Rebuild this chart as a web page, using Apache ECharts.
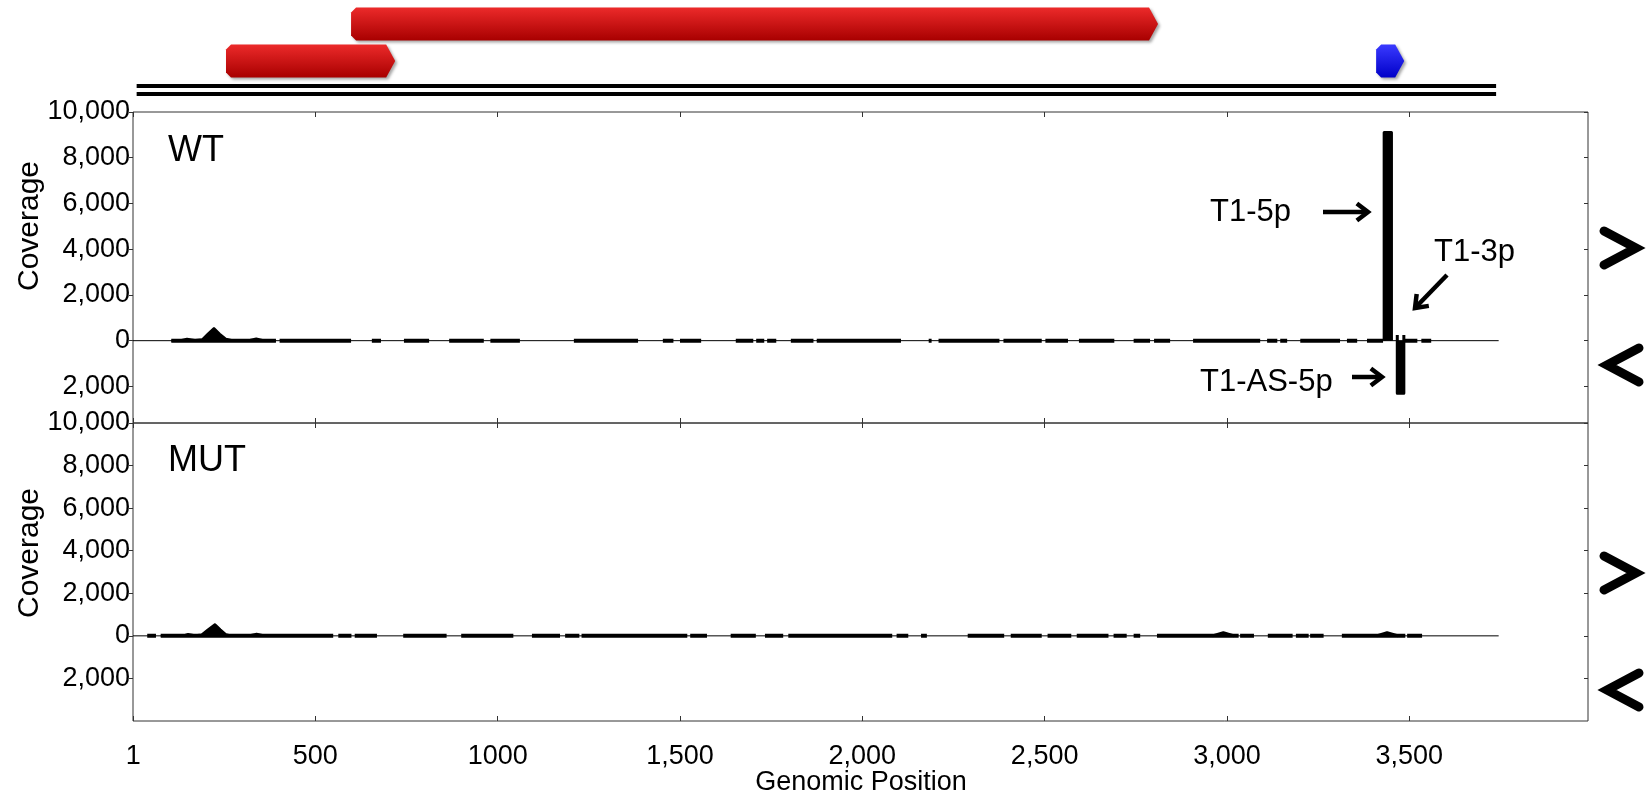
<!DOCTYPE html>
<html><head><meta charset="utf-8">
<script src="https://cdn.jsdelivr.net/npm/echarts@6/dist/echarts.min.js"></script>
<style>html,body{margin:0;padding:0;background:#fff}#c{width:1651px;height:800px}</style>
</head><body><div id="c"></div>
<script>
// ---- data ----
const xTickValues = [1, 500, 1000, 1500, 2000, 2500, 3000, 3500];
const xTickLabels = ['1', '500', '1000', '1,500', '2,000', '2,500', '3,000', '3,500'];
const yTickValues = [-2000, 0, 2000, 4000, 6000, 8000, 10000];
const yTickLabels = ['2,000', '0', '2,000', '4,000', '6,000', '8,000', '10,000'];
// genes: [start, end, lane, color]
const genes = [[598, 2811, 0, 'red'], [255, 719, 1, 'red'], [3409, 3486, 1, 'blue']];
const genomeSpan = [10, 3738];
const baselineEnd = 3745;
const wtSegments = [[105,392],[402,598],[655,680],[743,812],[867,962],[980,1061],[1209,1385],[1453,1482],[1500,1558],[1653,1701],[1709,1731],[1739,1764],[1804,1866],[1875,2106],[2182,2190],[2209,2376],[2387,2492],[2502,2564],[2594,2691],[2744,2789],[2800,2844],[2907,3091],[3110,3138],[3146,3165],[3201,3310],[3329,3357],[3384,3428],[3484,3522],[3533,3560]];
const wtProfile = [[105,0],[130,20],[148,90],[170,30],[190,60],[205,300],[222,560],[238,300],[255,80],[270,30],[320,30],[338,100],[355,30],[392,0]];
const wtSpike5p = [[3431,0],[3431,9100],[3451,9100],[3451,0]];
const wtSpikeAS = [[3467,250],[3467,-2300],[3485,-2300],[3485,250]];
const mutSegments = [[39,63],[76,549],[563,599],[608,669],[741,860],[900,1043],[1094,1171],[1185,1224],[1230,1520],[1528,1574],[1639,1708],[1733,1783],[1797,2082],[2094,2126],[2161,2177],[2289,2389],[2407,2492],[2508,2573],[2588,2675],[2689,2725],[2744,2762],[2808,3032],[3036,3074],[3112,3180],[3189,3224],[3228,3265],[3315,3489],[3494,3535]];
const mutProfile = [[76,0],[138,20],[151,90],[170,30],[188,60],[205,300],[225,550],[240,300],[255,80],[266,30],[320,30],[339,100],[358,30],[400,0]];
const mutBumps = [[[2960,0],[2990,150],[3020,0]], [[3410,0],[3439,150],[3470,0]]];

// ---- build ----
function segData(segs){const d=[];segs.forEach(s=>{d.push([s[0],0],[s[1],0],[s[1],'-']);});return d;}
const X0=0, X1=3990;
const font='"Liberation Sans", Arial, sans-serif';
function xAx(grid, pos, showLabel){
  return {type:'value',gridIndex:grid,min:X0,max:X1,position:pos,
    axisLine:{show:false,onZero:false},splitLine:{show:false},
    axisTick:{show:grid>0,inside:true,length:5,customValues:xTickValues,lineStyle:{color:'#333'}},
    axisLabel:{show:showLabel,customValues:xTickValues,margin:22,color:'#000',fontSize:27,fontFamily:font,
      formatter:v=>xTickLabels[xTickValues.indexOf(v)]}};
}
function yAx(grid,min,pos,showLabel){
  return {type:'value',gridIndex:grid,min:min,max:10000,position:pos,
    axisLine:{show:false,onZero:false},splitLine:{show:false},
    axisTick:{show:true,inside:pos==='right',length:4,customValues:yTickValues,lineStyle:{color:'#333'}},
    axisLabel:{show:showLabel,customValues:yTickValues,margin:3,color:'#000',fontSize:27,fontFamily:font,
      formatter:v=>yTickLabels[yTickValues.indexOf(v)]}};
}
function covSeries(xi,yi,segs,profile,extra){
  const s=[
    {type:'line',xAxisIndex:xi,yAxisIndex:yi,data:[[0,0],[baselineEnd,0]],symbol:'none',silent:true,lineStyle:{color:'#000',width:1},z:2},
    {type:'line',xAxisIndex:xi,yAxisIndex:yi,data:segData(segs),symbol:'none',connectNulls:false,lineStyle:{color:'#000',width:4,cap:'butt'},z:3},
    {type:'line',xAxisIndex:xi,yAxisIndex:yi,data:profile,symbol:'none',lineStyle:{color:'#000',width:2},areaStyle:{color:'#000',opacity:1},z:3}
  ];
  extra.forEach(p=>s.push({type:'line',xAxisIndex:xi,yAxisIndex:yi,data:p,symbol:'none',lineStyle:{color:'#000',width:3,join:'round'},areaStyle:{color:'#000',opacity:1,origin:0},z:4}));
  return s;
}
const laneY=[2.4,6.1];
function grad(c){return c==='red'?new echarts.graphic.LinearGradient(0,0,0,1,[{offset:0,color:'#ec2a2a'},{offset:1,color:'#a80000'}])
  :new echarts.graphic.LinearGradient(0,0,0,1,[{offset:0,color:'#3a3aff'},{offset:1,color:'#0000c8'}]);}
const geneSeries={type:'custom',xAxisIndex:0,yAxisIndex:0,data:genes.map((g,i)=>[g[0],g[1],g[2],i]),
  renderItem:(params,api)=>{
    const g=genes[api.value(3)];
    const a=api.coord([g[0],laneY[g[2]]]), b=api.coord([g[1],laneY[g[2]]]);
    const h=api.size([0,3.3])[1]/2, tip=9, r=5;
    const x0=a[0], x1=b[0], y=a[1];
    const pts=[[x0+r,y-h],[x1-tip,y-h],[x1,y],[x1-tip,y+h],[x0+r,y+h],[x0,y+h-r],[x0,y-h+r]];
    return {type:'polygon',shape:{points:pts,smooth:0},style:{fill:grad(g[3]),shadowBlur:3,shadowColor:'rgba(0,0,0,0.35)',shadowOffsetX:2,shadowOffsetY:2}};
  }};
const trackLines=[8.6,9.4].map(v=>({type:'line',xAxisIndex:0,yAxisIndex:0,data:[[genomeSpan[0],v],[genomeSpan[1],v]],symbol:'none',lineStyle:{color:'#000',width:4}}));

function arrow(x1,y1,x2,y2){
  const ang=Math.atan2(y2-y1,x2-x1), L=14, sp=0.65;
  const p1=[x2-L*Math.cos(ang-sp),y2-L*Math.sin(ang-sp)], p2=[x2-L*Math.cos(ang+sp),y2-L*Math.sin(ang+sp)];
  return [{type:'line',shape:{x1,y1,x2,y2},style:{stroke:'#000',lineWidth:4.5}},
          {type:'polyline',shape:{points:[p1,[x2,y2],p2]},style:{stroke:'#000',lineWidth:4.5,fill:null,lineJoin:'miter'}}];
}
function chevron(cx,cy,dir){
  const w=16*dir;
  return {type:'polyline',shape:{points:[[cx-w,cy-17],[cx+w,cy],[cx-w,cy+17]]},style:{stroke:'#000',lineWidth:9,fill:null,lineCap:'round',lineJoin:'miter'}};
}
function txt(t,x,y,size,align,rot){return {type:'text',x,y,rotation:rot||0,style:{text:t,fill:'#000',font:size+'px '+font,align:align||'left',verticalAlign:'middle'}};}

const graphics=[
  txt('WT',168,151,36),txt('MUT',168,461,36),
  txt('Coverage',30,226,30,'center',Math.PI/2),txt('Coverage',30,553,30,'center',Math.PI/2),
  txt('Genomic Position',861,783,27,'center'),
  txt('T1-5p',1210,212,31),txt('T1-3p',1434,252,31),txt('T1-AS-5p',1200,382,31),
  ...arrow(1323,212,1368,212),...arrow(1447,275,1415,308),...arrow(1352,377,1382,377),
  chevron(1620,248,1),chevron(1623,365,-1),chevron(1620,573,1),chevron(1623,690,-1)
];

const chart=echarts.init(document.getElementById('c'));
chart.setOption({
  animation:false,
  grid:[
    {left:133,right:63,top:0,height:100},
    {left:133,right:63,top:112,height:311,show:true,borderColor:'#333',borderWidth:1},
    {left:133,right:63,top:423,height:298,show:true,borderColor:'#333',borderWidth:1}
  ],
  xAxis:[
    {type:'value',gridIndex:0,min:X0,max:X1,show:false},
    xAx(1,'top',false), xAx(1,'bottom',false),
    xAx(2,'top',false), xAx(2,'bottom',true)
  ],
  yAxis:[
    {type:'value',gridIndex:0,min:0,max:10,inverse:true,show:false},
    yAx(1,-3600,'left',true), yAx(1,-3600,'right',false),
    yAx(2,-4000,'left',true), yAx(2,-4000,'right',false)
  ],
  series:[
    geneSeries,...trackLines,
    ...covSeries(2,1,wtSegments,wtProfile,[wtSpike5p,wtSpikeAS]),
    ...covSeries(4,3,mutSegments,mutProfile,mutBumps)
  ],
  graphic:graphics
});
</script></body></html>
